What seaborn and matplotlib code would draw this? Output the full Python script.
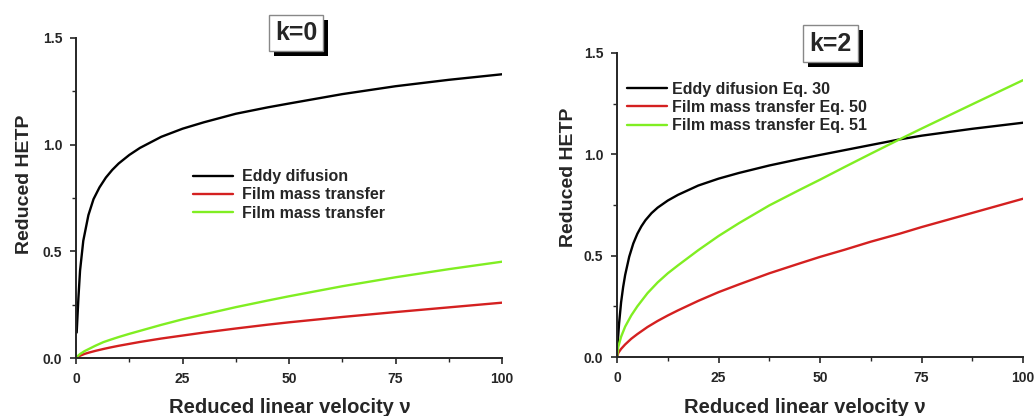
import numpy as np
import pandas as pd
import matplotlib
matplotlib.use("Agg")
import matplotlib.pyplot as plt
import matplotlib.patheffects as pe
from matplotlib.ticker import MultipleLocator
import seaborn as sns

# k=0 panel
k0_eddy_x = [0.15, 0.55, 0.94, 1.7, 2.9, 4.1, 5.5, 7, 8.5, 10, 12.5, 15, 20, 25, 30, 37.5, 45, 50, 62.5, 75, 87.5, 100]
k0_eddy_y = [0.12, 0.28, 0.41, 0.55, 0.67, 0.745, 0.80, 0.846, 0.882, 0.912, 0.952, 0.985, 1.037, 1.075, 1.105, 1.145, 1.175, 1.193, 1.237, 1.274, 1.304, 1.33]
k0_film_x = [0, 0.5, 1, 2, 3, 4.5, 6.4, 8, 10, 12.5, 15, 20, 25, 30, 37.5, 45, 50, 62.5, 75, 87.5, 100]
k0_film_red_y = [0, 0.007, 0.012, 0.02, 0.026, 0.034, 0.043, 0.05, 0.058, 0.067, 0.076, 0.092, 0.106, 0.12, 0.139, 0.157, 0.168, 0.193, 0.216, 0.238, 0.26]
k0_film_green_y = [0, 0.012, 0.02, 0.033, 0.043, 0.058, 0.075, 0.086, 0.099, 0.114, 0.128, 0.156, 0.182, 0.205, 0.239, 0.27, 0.29, 0.337, 0.379, 0.417, 0.452]

# k=2 panel
k2_eddy_x = [0, 0.2, 0.5, 1, 1.5, 2, 3, 4, 5, 6, 7, 8.5, 10, 12.5, 15, 20, 25, 30, 37.5, 45, 50, 62.5, 69.7, 75, 87.5, 100]
k2_eddy_y = [0, 0.08, 0.165, 0.27, 0.345, 0.405, 0.495, 0.56, 0.608, 0.645, 0.675, 0.71, 0.737, 0.772, 0.80, 0.846, 0.88, 0.908, 0.945, 0.977, 0.997, 1.046, 1.074, 1.092, 1.126, 1.156]
k2_film_x = [0, 0.3, 1, 2, 3.5, 5, 7.5, 10, 12.5, 15, 20, 25, 30, 37.5, 45, 50, 56, 62.5, 69.7, 75, 87.5, 100]
k2_eq50_y = [0, 0.02, 0.04, 0.062, 0.09, 0.113, 0.148, 0.178, 0.205, 0.23, 0.277, 0.32, 0.358, 0.413, 0.462, 0.494, 0.529, 0.569, 0.609, 0.641, 0.711, 0.781]
k2_eq51_y = [0, 0.05, 0.10, 0.15, 0.205, 0.25, 0.315, 0.368, 0.413, 0.452, 0.527, 0.597, 0.66, 0.748, 0.825, 0.875, 0.937, 1.003, 1.075, 1.127, 1.247, 1.366]

labels_k0 = ["Eddy difusion", "Film mass transfer", "Film mass transfer"]
labels_k2 = ["Eddy difusion Eq. 30", "Film mass transfer Eq. 50", "Film mass transfer Eq. 51"]
colors = ["black", "#d42020", "#80ee22"]

sns.set_style("ticks")
plt.rcParams["font.family"] = ["Liberation Sans", "DejaVu Sans"]
plt.rcParams["font.weight"] = "bold"

fig = plt.figure(figsize=(10.36, 4.16), dpi=100)
ax1 = fig.add_axes([0.0734, 0.139, 0.4112, 0.7697])
ax2 = fig.add_axes([0.5956, 0.1418, 0.3919, 0.7308])

k0_series = [(k0_eddy_x, k0_eddy_y), (k0_film_x, k0_film_red_y), (k0_film_x, k0_film_green_y)]
k2_series = [(k2_eddy_x, k2_eddy_y), (k2_film_x, k2_eq50_y), (k2_film_x, k2_eq51_y)]

for ax, series, labels in [(ax1, k0_series, labels_k0), (ax2, k2_series, labels_k2)]:
    for (xs, ys), lab, c in zip(series, labels, colors):
        sns.lineplot(x=xs, y=ys, ax=ax, color=c, lw=1.7, label=lab, sort=False)
    ax.set_xlim(0, 100)
    ax.set_ylim(0, 1.5)
    ax.set_xticks([0, 25, 50, 75, 100])
    ax.set_yticks([0.0, 0.5, 1.0, 1.5])
    ax.set_yticklabels(["0.0", "0.5", "1.0", "1.5"])
    ax.xaxis.set_minor_locator(MultipleLocator(12.5))
    ax.yaxis.set_minor_locator(MultipleLocator(0.25))
    ax.tick_params(which="major", length=4, width=1.2, labelsize=10, direction="out")
    ax.tick_params(which="minor", length=3, width=1.0, direction="out")
    ax.tick_params(axis="x", pad=6)
    ax.tick_params(axis="y", pad=6)
    for s in ["left", "bottom"]:
        ax.spines[s].set_linewidth(1.4)
    sns.despine(ax=ax)
    ax.set_xlabel("Reduced linear velocity \u03bd", fontsize=14.5, fontweight="bold", va="top")
    ax.set_ylabel("Reduced HETP", fontsize=14, fontweight="bold")

ax1.xaxis.set_label_coords(0.501, -0.125)
ax1.yaxis.set_label_coords(-0.10, 0.544)
ax2.xaxis.set_label_coords(0.463, -0.135)
ax2.yaxis.set_label_coords(-0.098, 0.59)

ax1.legend(loc="upper left", bbox_to_anchor=(0.275, 0.59), frameon=False, fontsize=11.5,
           handlelength=2.5, handletextpad=0.55, labelspacing=0.2, borderpad=0, borderaxespad=0)
ax2.legend(loc="upper left", bbox_to_anchor=(0.025, 0.905), frameon=False, fontsize=11.5,
           handlelength=2.5, handletextpad=0.3, labelspacing=0.2, borderpad=0, borderaxespad=0)

for (tx, ty), txt in [((0.2857, 0.921), "k=0"), ((0.802, 0.895), "k=2")]:
    t = fig.text(tx, ty, txt, ha="center", va="center", fontsize=18, fontweight="bold",
                 bbox=dict(boxstyle="square,pad=0.25", fc="white", ec="#888888", lw=1))
    t.get_bbox_patch().set_path_effects([
        pe.SimplePatchShadow(offset=(3.6, -3.6), shadow_rgbFace="black", alpha=1.0),
        pe.Normal()])

fig.savefig("out.png", dpi=100)
